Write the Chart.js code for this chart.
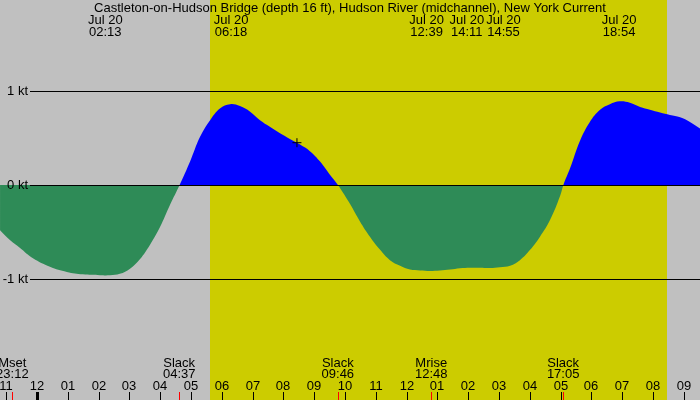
<!DOCTYPE html>
<html>
<head>
<meta charset="utf-8">
<script src="https://cdn.jsdelivr.net/npm/chart.js@4.4.1/dist/chart.umd.min.js"></script>
<style>
  html, body { margin: 0; padding: 0; background: #c0c0c0; }
  canvas { display: block; }
</style>
</head>
<body>
<canvas id="c" width="700" height="400"></canvas>
<script>
// ---- Data (hours relative to midnight Jul 20; current in knots) ----
const titleText = "Castleton-on-Hudson Bridge (depth 16 ft), Hudson River (midchannel), New York Current";
const hours = [-1.20, -0.88, -0.55, -0.13, 0.42, 0.97, 1.49, 2.05, 2.37, 2.69, 3.02, 3.34, 3.67, 3.99, 4.32, 4.63,
  4.97, 5.29, 5.62, 5.94, 6.27, 6.59, 6.92, 7.24, 7.56, 7.89, 8.21, 8.54, 8.86, 9.19, 9.51, 9.77,
  10.16, 10.49, 10.81, 11.14, 11.46, 11.79, 12.11, 12.44, 12.76, 13.08, 13.41, 13.73, 14.06, 14.38, 14.71, 15.03, 15.36, 15.68, 16.01, 16.33, 16.66, 16.98, 17.09,
  17.31, 17.63, 17.95, 18.28, 18.60, 18.92, 19.25, 19.58, 19.90, 20.23, 20.55, 20.88, 21.20, 21.53];
const knots = [-0.48, -0.585, -0.67, -0.78, -0.87, -0.925, -0.95, -0.96, -0.96, -0.945, -0.89, -0.79, -0.635, -0.45, -0.21, 0,
  0.25, 0.51, 0.69, 0.815, 0.86, 0.84, 0.78, 0.69, 0.62, 0.55, 0.49, 0.43, 0.36, 0.25, 0.11, 0,
  -0.2, -0.39, -0.55, -0.69, -0.80, -0.86, -0.90, -0.91, -0.915, -0.91, -0.90, -0.886, -0.88, -0.88, -0.883, -0.875, -0.86, -0.80, -0.69, -0.55, -0.37, -0.12, 0,
  0.18, 0.47, 0.67, 0.80, 0.86, 0.89, 0.875, 0.83, 0.80, 0.77, 0.745, 0.72, 0.67, 0.60];

const yTickValues = [1, 0, -1];
const yTickLabels = ["1 kt", "0 kt", "-1 kt"];

const hourTicks = [-1,0,1,2,3,4,5,6,7,8,9,10,11,12,13,14,15,16,17,18,19,20,21];
const hourLabels = ["11","12","01","02","03","04","05","06","07","08","09","10","11","12","01","02","03","04","05","06","07","08","09"];

const topTimes = [2.217, 6.3, 12.65, 14.183, 14.917, 18.9];
const topDates = ["Jul 20","Jul 20","Jul 20","Jul 20","Jul 20","Jul 20"];
const topLabels = ["02:13","06:18","12:39","14:11","14:55","18:54"];

const bottomTimes = [-0.8, 4.617, 9.767, 12.8, 17.083];
const bottomNames = ["Mset","Slack","Slack","Mrise","Slack"];
const bottomLabels = ["23:12","04:37","09:46","12:48","17:05"];

const sunrise = 5.617, sunset = 20.45;
const markerTime = [8.44];
const markerValue = [0.45];

const xMin = -1.2013, xMax = 21.526;
const yMin = -2.287, yMax = 1.968;

const FONT = '13px "Liberation Sans", Arial, sans-serif';

// push apart overlapping labels (simple sweep)
function spread(ctx, centers, texts1, texts2, gap) {
  const pos = centers.slice();
  const w = texts1.map((t, i) => Math.max(ctx.measureText(t).width, ctx.measureText(texts2[i]).width));
  for (let iter = 0; iter < 10; iter++) {
    for (let i = 0; i < pos.length - 1; i++) {
      const need = (w[i] + w[i + 1]) / 2 + gap;
      const d = pos[i + 1] - pos[i];
      if (d < need) {
        const s = (need - d) / 2;
        pos[i] -= s; pos[i + 1] += s;
      }
    }
  }
  return pos;
}

const decor = {
  id: 'decor',
  beforeDraw(chart) {
    const { ctx, scales: { x } } = chart;
    ctx.save();
    ctx.fillStyle = '#c0c0c0';
    ctx.fillRect(0, 0, chart.width, chart.height);
    const a = Math.round(x.getPixelForValue(sunrise)), b = Math.round(x.getPixelForValue(sunset));
    ctx.fillStyle = '#cccc00';
    ctx.fillRect(a, 0, b - a, chart.height);
    ctx.restore();
  },
  afterDatasetsDraw(chart) {
    const { ctx, scales: { x, y } } = chart;
    ctx.save();
    ctx.font = FONT;
    ctx.fillStyle = '#000';
    // y gridlines and labels
    yTickValues.forEach((v, i) => {
      const py = Math.round(y.getPixelForValue(v)) + 0.5;
      ctx.strokeStyle = '#000';
      ctx.lineWidth = 1;
      ctx.beginPath();
      ctx.moveTo(30, py);
      ctx.lineTo(chart.width, py);
      ctx.stroke();
      ctx.textAlign = 'right';
      ctx.textBaseline = 'middle';
      ctx.fillText(yTickLabels[i], 28, py);
    });
    // title
    ctx.textAlign = 'center';
    ctx.textBaseline = 'alphabetic';
    ctx.fillText(titleText, 350, 12);
    // top events
    const topPos = spread(ctx, topTimes.map(t => x.getPixelForValue(t)), topDates, topLabels, 2);
    topPos.forEach((px, i) => {
      ctx.fillText(topDates[i], px, 24);
      ctx.fillText(topLabels[i], px, 36);
    });
    // bottom events
    bottomTimes.forEach((t, i) => {
      const px = x.getPixelForValue(t);
      ctx.fillText(bottomNames[i], px, 367);
      ctx.fillText(bottomLabels[i], px, 378);
    });
    // hour labels and ticks
    hourTicks.forEach((h, i) => {
      const px = Math.round(x.getPixelForValue(h));
      ctx.fillStyle = '#000';
      ctx.fillText(hourLabels[i], px, 390);
      if (h === 0) ctx.fillRect(px - 1, 392, 3, 8);
      else ctx.fillRect(px, 392, 1, 8);
    });
    // event ticks (red)
    ctx.fillStyle = '#ff0000';
    bottomTimes.forEach(t => {
      const px = Math.round(x.getPixelForValue(t));
      ctx.fillRect(px, 392, 1, 8);
    });
    ctx.restore();
  }
};

new Chart(document.getElementById('c'), {
  type: 'line',
  data: {
    datasets: [
      {
        data: hours.map((h, i) => ({ x: h, y: knots[i] })),
        fill: { target: 'origin', above: '#0000ff', below: '#2e8b57' },
        borderWidth: 0,
        borderColor: 'rgba(0,0,0,0)',
        pointRadius: 0,
        tension: 0.4,
        order: 2
      },
      {
        data: markerTime.map((t, i) => ({ x: t, y: markerValue[i] })),
        showLine: false,
        pointStyle: 'cross',
        pointRadius: 4.5,
        borderColor: '#000000',
        backgroundColor: '#000000',
        borderWidth: 1,
        fill: false,
        order: 1
      }
    ]
  },
  options: {
    responsive: false,
    devicePixelRatio: 1,
    animation: false,
    layout: { padding: 0, autoPadding: false },
    plugins: { legend: { display: false }, tooltip: { enabled: false }, title: { display: false } },
    scales: {
      x: { type: 'linear', min: xMin, max: xMax, display: false },
      y: { min: yMin, max: yMax, display: false }
    }
  },
  plugins: [decor]
});
</script>
</body>
</html>
